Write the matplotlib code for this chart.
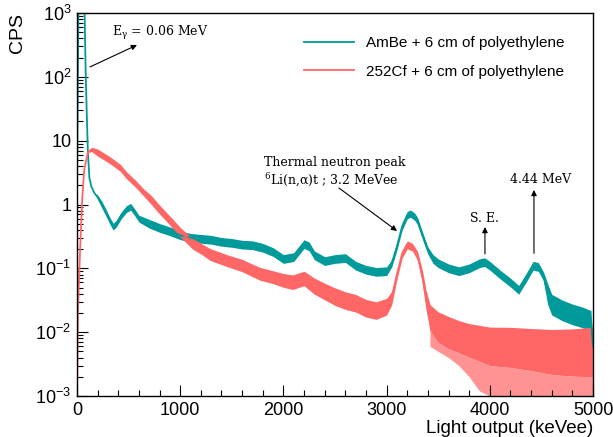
import numpy as np
import matplotlib.pyplot as plt
from matplotlib.ticker import FixedLocator, LogLocator, NullFormatter, MultipleLocator

plt.rcParams['font.family'] = ['Liberation Sans', 'DejaVu Sans']
plt.rcParams['mathtext.fontset'] = 'custom'
plt.rcParams['mathtext.rm'] = 'Liberation Sans'
plt.rcParams['mathtext.it'] = 'Liberation Sans:italic'

# AmBe + 6 cm polyethylene (teal)
amb_kev = [0, 15, 70, 85, 95, 105, 120, 140, 170, 200,
           240, 280, 320, 350, 380, 430, 480, 520, 560, 600,
           700, 800, 900, 1000, 1100, 1200, 1300, 1400, 1500, 1600,
           1700, 1800, 1900, 2000, 2100, 2150, 2200, 2250, 2300, 2400,
           2500, 2600, 2700, 2800, 2900, 3000, 3050, 3100, 3150, 3200,
           3230, 3270, 3300, 3350, 3400, 3450, 3500, 3600, 3700, 3800,
           3900, 3950, 4000, 4100, 4200, 4280, 4350, 4420, 4470, 4520,
           4560, 4600, 4700, 4800, 4900, 4980, 5000]
amb_cps = [1.6, 2000, 2000, 100, 25, 7, 2.6, 1.9, 1.5, 1.3,
           1.0, 0.75, 0.55, 0.45, 0.5, 0.68, 0.85, 0.92, 0.75, 0.6,
           0.5, 0.43, 0.38, 0.33, 0.30, 0.29, 0.28, 0.26, 0.25, 0.235,
           0.23, 0.21, 0.18, 0.14, 0.15, 0.19, 0.24, 0.22, 0.16, 0.13,
           0.14, 0.145, 0.11, 0.095, 0.088, 0.09, 0.12, 0.22, 0.45, 0.68,
           0.72, 0.65, 0.55, 0.32, 0.19, 0.14, 0.12, 0.10, 0.09, 0.10,
           0.12, 0.125, 0.11, 0.08, 0.06, 0.046, 0.07, 0.11, 0.105, 0.075,
           0.04, 0.027, 0.022, 0.019, 0.017, 0.015, 0.006]
# half-width of the noise band (ratio around the centre value)
amb_spread = [1.0] * 9 + [1.08] + [1.13] * 10 + [1.17] * 26 + [1.14] * 9 + [1.17] * 15 + [1.45] * 6 + [1.2]

# 252Cf + 6 cm polyethylene (red)
cf_kev = [0, 10, 30, 50, 70, 105, 140, 200, 320, 420,
          480, 560, 640, 720, 800, 880, 960, 1000, 1120, 1200,
          1290, 1450, 1600, 1770, 1900, 2000, 2090, 2200, 2300, 2400,
          2500, 2600, 2700, 2800, 2900, 3000, 3050, 3100, 3150, 3200,
          3250, 3300, 3350, 3380, 3420, 3500, 3600, 3700, 3800, 3900,
          4000, 4200, 4400, 4600, 4800, 5000]
cf_cps = [0.001, 0.025, 0.19, 1.2, 3.5, 6.5, 7.3, 6.6, 5.0, 3.8,
          2.9, 2.2, 1.6, 1.2, 0.85, 0.62, 0.45, 0.38, 0.25, 0.21,
          0.17, 0.137, 0.115, 0.085, 0.075, 0.068, 0.063, 0.072, 0.055, 0.045,
          0.038, 0.033, 0.03, 0.025, 0.023, 0.026, 0.035, 0.08, 0.17, 0.24,
          0.22, 0.16, 0.07, 0.035, 0.018, 0.013, 0.011, 0.0095, 0.0085, 0.008,
          0.0075, 0.007, 0.006, 0.005, 0.0045, 0.004]
# dense part of the noise band below / above the centre (ratios)
cf_down = [1, 1, 1, 1, 1, 1, 1.08, 1.15, 1.15, 1.15,
           1.15, 1.15, 1.15, 1.2, 1.2, 1.2, 1.22, 1.22, 1.25, 1.25,
           1.28, 1.28, 1.3, 1.3, 1.3, 1.35, 1.35, 1.35, 1.4, 1.4,
           1.45, 1.45, 1.45, 1.45, 1.45, 1.4, 1.3, 1.2, 1.18, 1.18,
           1.18, 1.2, 1.3, 1.5, 1.7, 1.9, 2.0, 2.0, 2.1, 2.3,
           2.5, 2.5, 2.4, 2.3, 2.2, 2.0]
cf_up = [1, 1, 1, 1, 1, 1, 1.08, 1.12, 1.12, 1.12,
         1.12, 1.12, 1.12, 1.15, 1.15, 1.15, 1.15, 1.15, 1.18, 1.18,
         1.2, 1.2, 1.2, 1.22, 1.22, 1.22, 1.25, 1.25, 1.28, 1.3,
         1.3, 1.3, 1.3, 1.3, 1.3, 1.3, 1.25, 1.15, 1.12, 1.12,
         1.12, 1.15, 1.25, 1.35, 1.5, 1.6, 1.6, 1.6, 1.6, 1.6,
         1.6, 1.7, 1.9, 2.2, 2.5, 3.0]
# sparse downward spikes of the red tail
cf_tail_kev = [3420, 3500, 3600, 3700, 3800, 3900, 4000, 4200, 4400, 4600, 4800, 5000]
cf_tail_min = [0.006, 0.005, 0.004, 0.003, 0.002, 0.0012, 0.001, 0.001, 0.001, 0.001, 0.001, 0.001]

teal = '#009a9a'
red = '#ff6666'

amb_e = np.array(amb_kev)
amb_y = np.array(amb_cps)
amb_s = np.array(amb_spread)
cf_e = np.array(cf_kev)
cf_y = np.array(cf_cps)
cf_lo = cf_y / np.array(cf_down)

fig = plt.figure(figsize=(6.13, 4.37), dpi=100)
ax = fig.add_axes([77 / 613, 1 - 396 / 437, 516 / 613, 383 / 437])

ax.fill_between(amb_e, amb_y / amb_s, amb_y * amb_s, color=teal, lw=0)
ax.plot(amb_e, amb_y, color=teal, lw=1.3, label='AmBe + 6 cm of polyethylene')

tail_core = np.interp(cf_tail_kev, cf_e, cf_lo)
ax.fill_between(cf_tail_kev, cf_tail_min, tail_core, color=red, alpha=0.7, lw=0)
ax.fill_between(cf_e, cf_lo, cf_y * np.array(cf_up), color=red, lw=0)
ax.plot(cf_e, cf_y, color=red, lw=1.3, label='252Cf + 6 cm of polyethylene')

ax.set_yscale('log')
ax.set_xlim(0, 5000)
ax.set_ylim(1e-3, 1e3)

ax.xaxis.set_major_locator(MultipleLocator(1000))
ax.xaxis.set_minor_locator(MultipleLocator(200))
ax.yaxis.set_major_locator(FixedLocator([1e-3, 1e-2, 1e-1, 1, 10, 100, 1000]))
ax.set_yticklabels([r'$10^{-3}$', r'$10^{-2}$', r'$10^{-1}$', '1', '10', r'$10^{2}$', r'$10^{3}$'])
ax.yaxis.set_minor_locator(LogLocator(base=10, subs=np.arange(2, 10)))
ax.yaxis.set_minor_formatter(NullFormatter())
ax.tick_params(which='both', direction='in', labelsize=13, top=False, right=False)
ax.tick_params(which='major', length=8, width=0.8, pad=4)
ax.tick_params(which='minor', length=4, width=0.8)
for sp in ax.spines.values():
    sp.set_linewidth(1.0)

ax.set_xlabel('Light output (keVee)', fontsize=13.5, loc='right', labelpad=1)
ax.set_ylabel('CPS', fontsize=14, loc='top', labelpad=7)

ax.legend(loc='upper left', bbox_to_anchor=(0.413, 0.975), frameon=False, fontsize=11,
          handlelength=3.3, handletextpad=0.75, labelspacing=0.95)

serif = dict(family='DejaVu Serif', fontsize=9, math_fontfamily='dejavuserif')
arrow = dict(arrowstyle='-|>', color='black', lw=0.8, mutation_scale=8, shrinkA=0, shrinkB=0)

ax.annotate('', xy=(581, 315), xytext=(126, 143), arrowprops=arrow)
ax.text(339, 486, r'E$_{\mathrm{γ}}$ = 0.06 MeV', va='center', ha='left', **serif)

ax.annotate('', xy=(3101, 0.385), xytext=(2539, 1.81), arrowprops=arrow)
ax.text(1812, 4.47, 'Thermal neutron peak', va='center', ha='left', **serif)
ax.text(1812, 2.42, r'$^{6}$Li(n,α)t ; 3.2 MeVee', va='center', ha='left', **serif)

ax.annotate('', xy=(3953, 0.444), xytext=(3953, 0.168), arrowprops=arrow)
ax.text(3944, 0.614, 'S. E.', va='center', ha='center', **serif)

ax.annotate('', xy=(4428, 1.69), xytext=(4428, 0.172), arrowprops=arrow)
ax.text(4496, 2.5, '4.44 MeV', va='center', ha='center', **serif)

fig.savefig('out.png', dpi=100)
